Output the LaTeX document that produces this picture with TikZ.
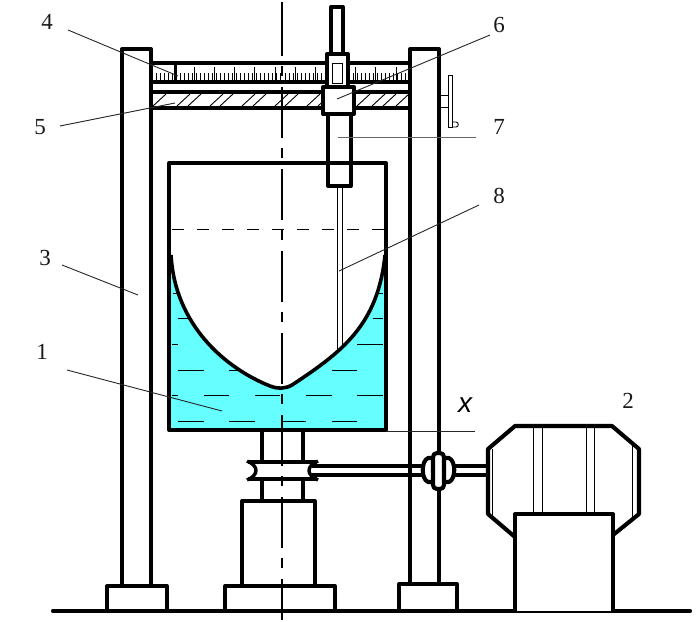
\documentclass[tikz,border=0pt]{standalone}
\usepackage{fontspec}
\setmainfont{Liberation Serif}
\newfontfamily\xfont{Liberation Sans}
\definecolor{water}{HTML}{66FFFF}
\tikzset{
  heavy/.style={line width=4.1pt,line join=round,line cap=round,black},
  thin line/.style={line width=0.9pt,black},
  leader/.style={line width=0.9pt,black!85},
  lab/.style={font=\fontsize{23}{23}\selectfont,inner sep=0pt,text=black!90},
  axis/.style={line width=1.1pt,black,dash pattern=on 51pt off 10pt on 10pt off 11pt},
}
\def\bowlpath{(171,255) .. controls (175,325) and (225,368) .. (270,386) .. controls (277,389) and (285,389) .. (292,385) .. controls (342,352) and (378,325) .. (385,255)}
\begin{document}
\begin{tikzpicture}[x=1pt,y=-1pt]
\useasboundingbox (0,0) rectangle (700,621);
% water
\begin{scope}
\clip (169,276) rectangle (386,430);
\fill[water] \bowlpath -- (386,430) -- (169,430) -- cycle;
\end{scope}
% water surface dashes
\foreach \y/\a/\b in {293/173/177,293/377/383,318/178/188,318/373/383,344/172/178,344/357/383,
 370/178/204,370/229/240,370/332/357,395/172/178,395/204/229,395/255/280,395/306/332,395/357/383,
 421/178/204,421/229/255,421/281/306,421/332/357}
  \draw[thin line] (\a,\y) -- (\b,\y);
% surface level
\draw[thin line,dash pattern=on 12pt off 13pt] (172,229) -- (384,229);
% columns
\draw[heavy] (122,586) -- (122,49) -- (151,49) -- (151,586);
\draw[heavy] (410,584) -- (410,49) -- (439,49) -- (439,452);
\draw[heavy] (439,489) -- (439,584);
% scale
\draw[heavy,line cap=butt] (151,63) -- (410,63);
\draw[heavy,line cap=butt] (151,82) -- (410,82);
\draw[heavy,line cap=butt] (151,92) -- (410,92);
\draw[heavy,line cap=butt] (151,108) -- (410,108);
\foreach \i in {0,...,62} \draw[thin line] ({156+4.03*\i},73) -- ({156+4.03*\i},81);
\foreach \i in {0,...,10} \draw[thin line] ({194.3+20.17*\i},67) -- ({194.3+20.17*\i},81);
\draw[line width=3pt] (175,63) -- (175,82);
\foreach \x in {153,177,188,210,220,242,253,275,285,307,318,357,372,383,396}
  \draw[thin line] (\x,106) -- (\x+13,94);
% knob
\draw[thin line] (439,95) -- (448,95) (439,107) -- (448,107);
\draw[thin line] (448,75) rectangle (452,127);
\draw[thin line] (452,122) -- (456,122) .. controls (459,122) and (459,127) .. (456,127) -- (452,127);
% vessel
\draw[heavy] (169,430) -- (169,163) -- (386,163) -- (386,430) -- cycle;
\draw[line width=3.6pt,line join=round] \bowlpath;
% probe
\draw[thin line] (337,186) -- (337,352) (342,186) -- (342,346);
\draw[heavy] (328,114) -- (328,186) -- (351,186) -- (351,114);
\draw[heavy] (331,53) -- (331,7) -- (343,7) -- (343,53);
\draw[heavy,fill=white] (327,88) -- (327,54) -- (348,54) -- (348,88);
\draw[thin line] (332,63) rectangle (342,83);
\draw[heavy,fill=white] (323,87) rectangle (354,114);
% shaft column and worm wheel
\draw[heavy,line cap=butt] (262,430) -- (262,500) (303,430) -- (303,500);
\fill[white] (252,463) rectangle (312,478);
\draw[heavy,line cap=butt] (248,462) -- (317,462) (248,479) -- (317,479);
\draw[line width=3.4pt] (247,461) .. controls (259,466) and (259,475) .. (247,480);
\draw[line width=3.4pt] (318,461) .. controls (306,466) and (306,475) .. (318,480);
% horizontal shaft
\draw[heavy,line cap=butt] (312,466) -- (424,466) (312,475) -- (424,475);
\draw[heavy,line cap=butt] (453,466) -- (488,466) (453,475) -- (488,475);
% coupling
\draw[heavy,fill=white] (433,458) -- (428,458) .. controls (421,461) and (421,479) .. (428,482) -- (433,482);
\draw[heavy,fill=white] (444,458) -- (449,458) .. controls (456,461) and (456,479) .. (449,482) -- (444,482);
\draw[heavy,fill=white,rounded corners=4pt] (433,453) rectangle (444,489);
% tower and bases
\draw[heavy] (242,586) -- (242,501) -- (315,501) -- (315,586);
\draw[heavy] (107,610) -- (107,586) -- (167,586) -- (167,610);
\draw[heavy] (225,610) -- (225,586) -- (335,586) -- (335,610);
\draw[heavy] (399,610) -- (399,584) -- (457,584) -- (457,610);
\draw[heavy] (53,611) -- (690,611);
% motor
\draw[heavy] (515,537) -- (488,514) -- (488,449) -- (515,426) -- (612,426) -- (639,449) -- (639,514) -- (613,535);
\draw[thin line] (492,449) -- (492,517) (632,444) -- (632,519);
\foreach \x in {533,542,586,594} \draw[thin line] (\x,426) -- (\x,514);
\draw[heavy,fill=white] (515,611) -- (515,514) -- (613,514) -- (613,611);
% centre line
\draw[axis] (282,5) -- (282,620);
\draw[line width=1.1pt] (282,2) -- (282,6);
% labels
\node[lab] (n1) at (42,352) {1};
\node[lab] (n2) at (628,401) {2};
\node[lab] (n3) at (45,258) {3};
\node[lab] (n4) at (47,22) {4};
\node[lab] (n5) at (40,127) {5};
\node[lab] (n6) at (499,25) {6};
\node[lab] (n7) at (499,127) {7};
\node[lab] (n8) at (499,196) {8};
\node[inner sep=0pt,font=\xfont\itshape\fontsize{28}{28}\selectfont] (nx) at (465,405) {x};
\coordinate (a1) at (222,411);
\coordinate (s1) at (67,370);
\coordinate (a3) at (138,295);
\coordinate (s3) at (62,265);
\coordinate (a4) at (178,76);
\coordinate (s4) at (68,30);
\coordinate (a5) at (175,103);
\coordinate (s5) at (60,126);
\coordinate (a6) at (337,99);
\coordinate (s6) at (490,35);
\coordinate (a7) at (338,137);
\coordinate (s7) at (476,137);
\coordinate (a8) at (339,271);
\coordinate (s8) at (479,205);
\coordinate (ax) at (386,431);
\coordinate (sx) at (475,431);
\draw[leader] (s1) -- (a1);
\draw[leader] (s3) -- (a3);
\draw[leader] (s4) -- (a4);
\draw[leader] (s5) -- (a5);
\draw[leader] (s6) -- (a6);
\draw[leader,black!60] (s7) -- (a7);
\draw[leader] (s8) -- (a8);
\draw[leader] (sx) -- (ax);
\end{tikzpicture}
\end{document}
